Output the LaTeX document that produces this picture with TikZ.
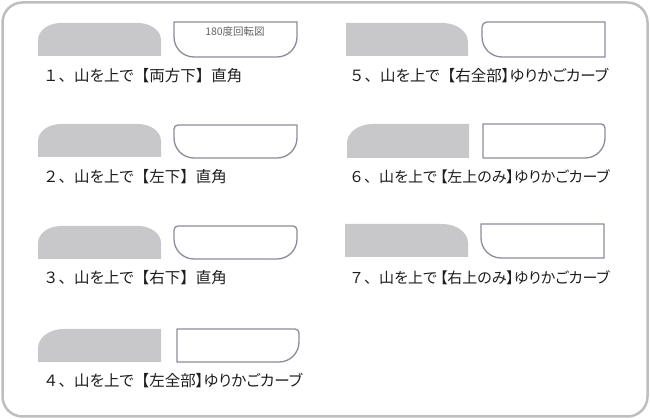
\documentclass[tikz,border=0pt]{standalone}
\usepackage{fontspec}
\setmainfont{Noto Sans CJK JP}
\newfontfamily\pk[RawFeature=+palt]{Noto Sans CJK JP}
\definecolor{fillgray}{RGB}{200,200,202}
\definecolor{linegray}{RGB}{140,140,155}
\definecolor{framegray}{RGB}{190,190,190}
\definecolor{txt}{RGB}{30,30,30}
\definecolor{smalltxt}{RGB}{100,100,100}
% style, L, top(px, y down), w, h, rTL, rTR, rBR, rBL  (circular corners)
\newcommand\cshape[9]{%
  \path[#1] ({#2},{419-#3-#6}) arc[start angle=180,end angle=90,radius=#6pt]
    -- ({#2+#4-#7},{419-#3}) arc[start angle=90,end angle=0,radius=#7pt]
    -- ({#2+#4},{419-#3-#5+#8}) arc[start angle=0,end angle=-90,radius=#8pt]
    -- ({#2+#9},{419-#3-#5}) arc[start angle=270,end angle=180,radius=#9pt]
    -- cycle;}
% same with corners 1.35 times wider than tall
\newcommand\eshape[9]{%
  \path[#1] ({#2},{419-#3-#6}) arc[start angle=180,end angle=90,x radius={1.35*#6pt},y radius=#6pt]
    -- ({#2+#4-1.35*#7},{419-#3}) arc[start angle=90,end angle=0,x radius={1.35*#7pt},y radius=#7pt]
    -- ({#2+#4},{419-#3-#5+#8}) arc[start angle=0,end angle=-90,x radius={1.35*#8pt},y radius=#8pt]
    -- ({#2+1.35*#9},{419-#3-#5}) arc[start angle=270,end angle=180,x radius={1.35*#9pt},y radius=#9pt]
    -- cycle;}
\tikzset{
  grayshape/.style={fill=fillgray},
  whiteshape/.style={draw=linegray, line width=1.3pt, fill=white},
  lbl/.style={anchor=west, inner sep=0pt, text=txt, font=\fontsize{15.5}{17}\selectfont},
  lblsmall/.style={lbl, font=\fontsize{15}{17}\selectfont},
}
\begin{document}
\begin{tikzpicture}[x=1pt,y=1pt]
\useasboundingbox (0,0) rectangle (650,419);
\draw[framegray, line width=2.5pt, rounded corners=20pt] (2.5,2.5) rectangle (647.5,416.5);
% left column
\eshape{grayshape}{38}{23}{123}{33}{17}{17}{0.01}{0.01}
\cshape{whiteshape}{174}{22}{123}{35}{0.01}{0.01}{20}{20}
\node[inner sep=0pt, text=smalltxt, font=\fontsize{10.5}{12}\selectfont] (rot) at (235,{419-32}) {180度回転図};
\node[lbl] (l1) at (43,{419-76}) {１、{\pk 山を上で}【両方下】直角};

\eshape{grayshape}{38}{124}{123}{33}{17}{17}{0.01}{0.01}
\cshape{whiteshape}{174}{125}{123}{33}{4}{0.01}{20}{20}
\node[lbl] (l2) at (43,{419-177}) {２、{\pk 山を上で}【左下】直角};

\eshape{grayshape}{38}{226}{123}{33}{17}{17}{0.01}{0.01}
\cshape{whiteshape}{174}{226}{123}{33}{4}{4}{20}{20}
\node[lbl] (l3) at (43,{419-278}) {３、{\pk 山を上で}【右下】直角};

\eshape{grayshape}{38}{329}{123}{33}{19}{0.01}{0.01}{0.01}
\cshape{whiteshape}{177}{329}{122}{33}{0.01}{4}{20}{0.01}
\node[lbl] (l4) at (43,{419-381}) {４、{\pk 山を上で}【左全部{\pk 】ゆりかごカーブ}};
% right column
\eshape{grayshape}{346}{23}{122}{33}{0.01}{19}{0.01}{0.01}
\cshape{whiteshape}{482}{22}{123}{35}{5}{0.01}{0.01}{20}
\node[lbl] (l5) at (349,{419-76}) {５、{\pk 山を上で}【右全部{\pk 】ゆりかごカーブ}};

\eshape{grayshape}{347}{124}{122}{34}{19}{0.01}{0.01}{0.01}
\cshape{whiteshape}{483}{124}{122}{34}{0.01}{4}{20}{0.01}
\node[lblsmall] (l6) at (349,{419-177}) {６、{\pk 山を上で}\hspace{3pt}{\pk【左上のみ】ゆりかごカーブ}};

\eshape{grayshape}{345}{224}{123}{33}{0.01}{19}{0.01}{0.01}
\cshape{whiteshape}{481}{224}{123}{34}{0.01}{0.01}{0.01}{20}
\node[lblsmall] (l7) at (349,{419-278}) {７、{\pk 山を上で}\hspace{3pt}{\pk【右上のみ】ゆりかごカーブ}};
\end{tikzpicture}
\end{document}
